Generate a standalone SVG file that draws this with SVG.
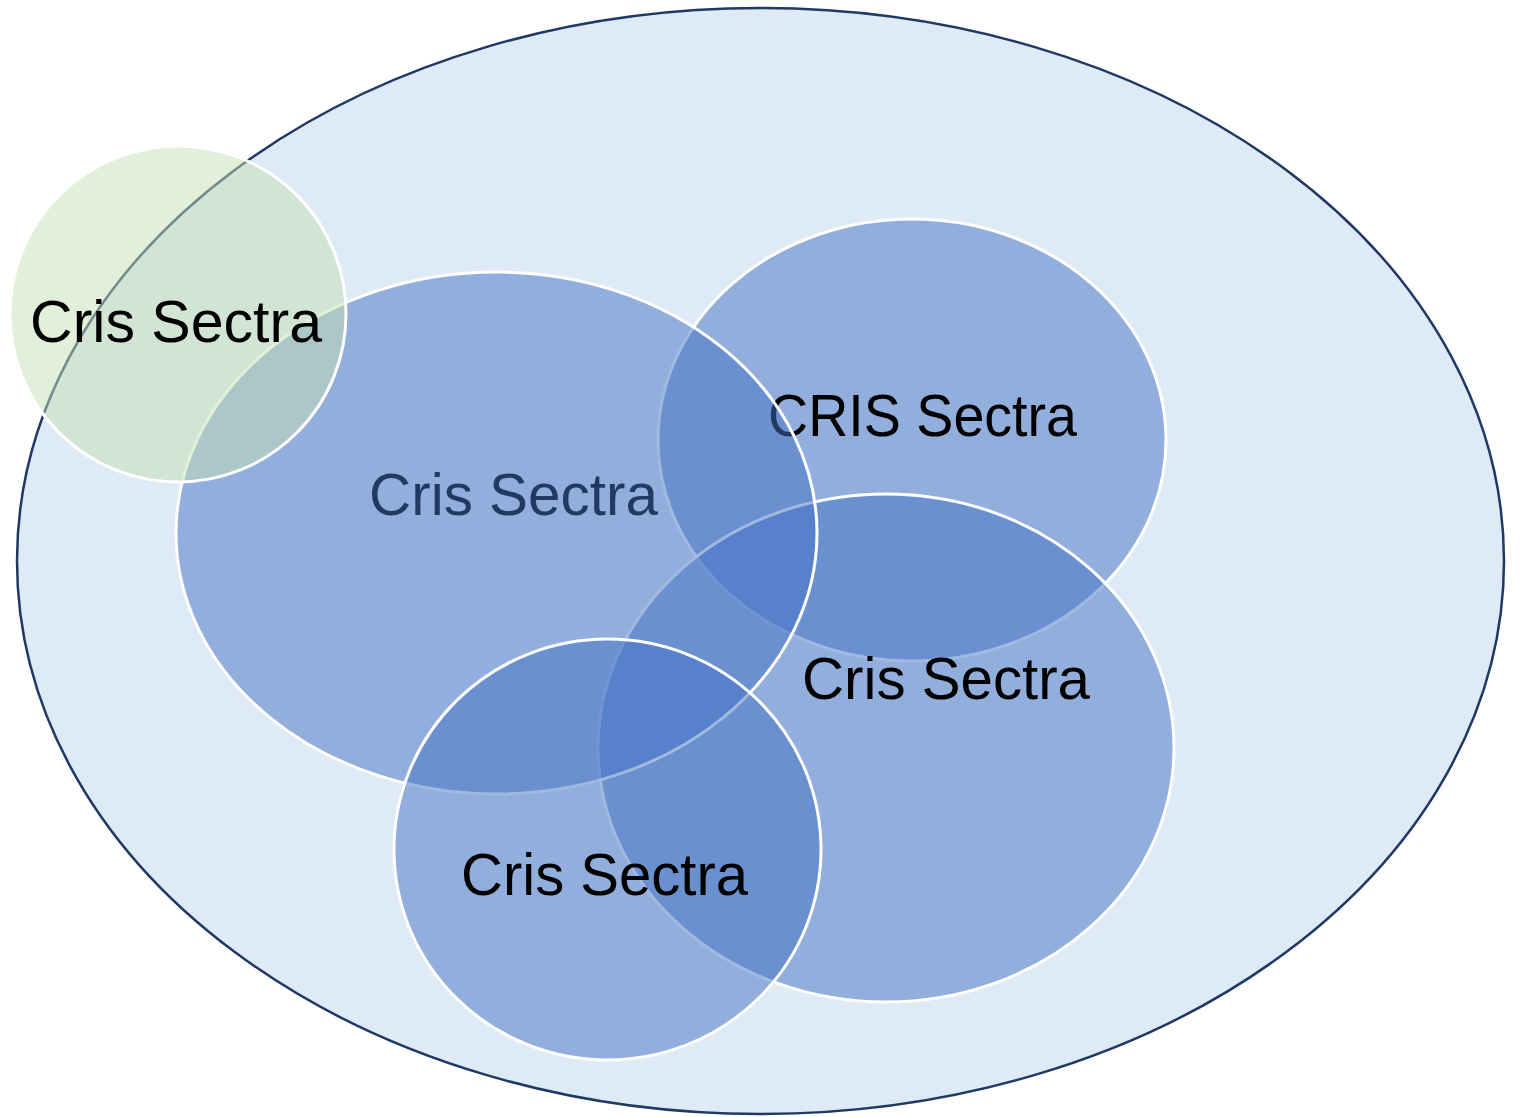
<svg xmlns="http://www.w3.org/2000/svg" width="1524" height="1117" viewBox="0 0 1524 1117">
<style>
.blue{fill:#4472C4;fill-opacity:0.5;stroke:#FFFFFF;stroke-width:3}
.green{fill:#C5E0B4;fill-opacity:0.5;stroke:#FFFFFF;stroke-width:3}
.lbl{font-family:"Liberation Sans","Open Sans",Arial,sans-serif;font-size:60px;fill:#000000;text-anchor:middle}
</style>
<rect width="1524" height="1117" fill="#FFFFFF"/>
<g id="outer">
<ellipse cx="760.5" cy="561" rx="743.5" ry="553" fill="#DEEBF7" stroke="#1F3864" stroke-width="2.5"/>
</g>
<g id="connectors"/>
<g id="node-top-right">
<ellipse class="blue" cx="912" cy="440" rx="254" ry="221"/>
<text class="lbl" x="922.5" y="436" textLength="309" lengthAdjust="spacingAndGlyphs">CRIS Sectra</text>
</g>
<g id="node-right">
<ellipse class="blue" cx="886" cy="748" rx="288" ry="254"/>
<text class="lbl" x="946" y="699" textLength="288" lengthAdjust="spacingAndGlyphs">Cris Sectra</text>
</g>
<g id="node-left">
<text class="lbl" x="513.5" y="515" textLength="289" lengthAdjust="spacingAndGlyphs">Cris Sectra</text>
<ellipse class="blue" cx="496.5" cy="533" rx="320.5" ry="261"/>
</g>
<g id="node-bottom">
<ellipse class="blue" cx="607.5" cy="849.5" rx="213.5" ry="210.5"/>
<text class="lbl" x="604.5" y="895" textLength="287" lengthAdjust="spacingAndGlyphs">Cris Sectra</text>
</g>
<g id="node-green">
<circle class="green" cx="178" cy="314" r="168"/>
<text class="lbl" x="176" y="342" textLength="292" lengthAdjust="spacingAndGlyphs">Cris Sectra</text>
</g>
</svg>
